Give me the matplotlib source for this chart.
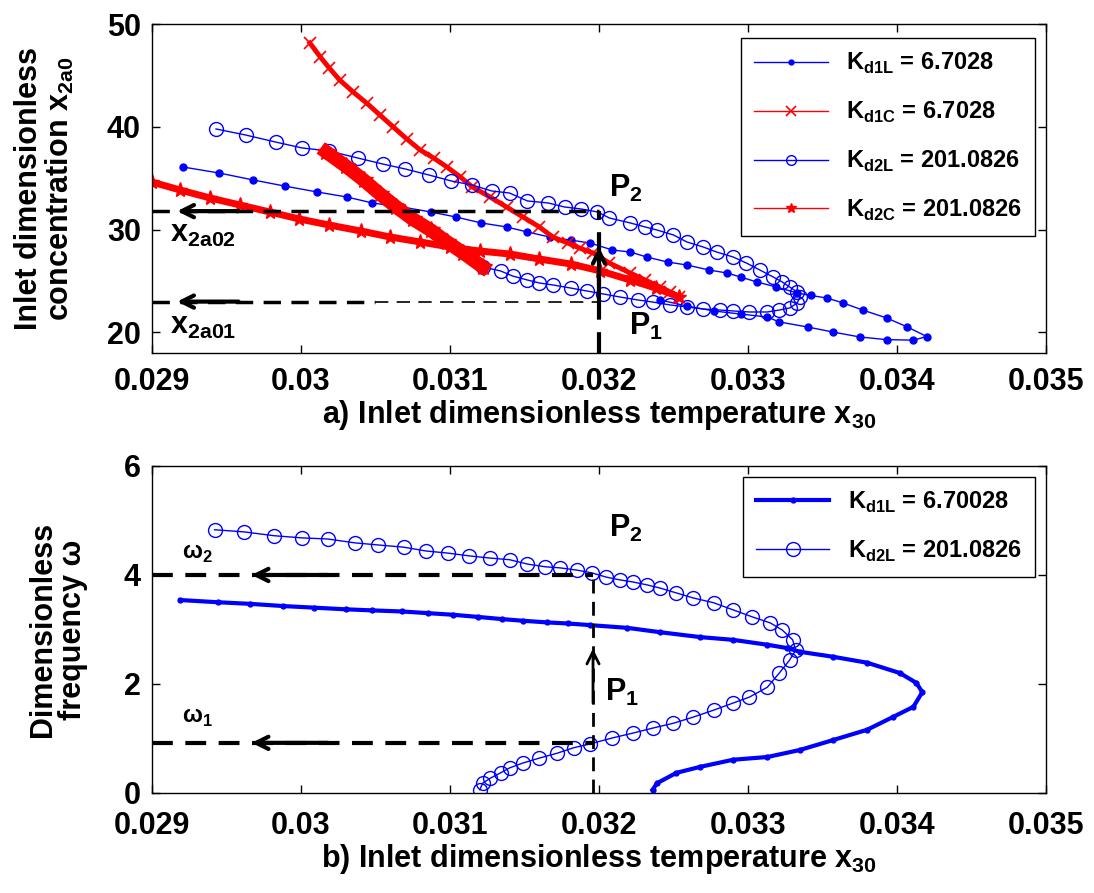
import matplotlib
matplotlib.use('Agg')
import matplotlib.pyplot as plt

# ---- a) x2a0 vs x30 ----
x30_d1L = [0.02921, 0.02945, 0.02968, 0.02989, 0.03011, 0.03031, 0.03048, 0.03068, 0.03087, 0.03104,
           0.03121, 0.03138, 0.03152, 0.03167, 0.03181, 0.03194, 0.03209, 0.03221, 0.03232, 0.03246,
           0.03259, 0.03274, 0.03286, 0.03295, 0.03306, 0.03319, 0.03333, 0.03342, 0.03353, 0.03364,
           0.03377, 0.03393, 0.03407, 0.03420, 0.03411, 0.03393, 0.03375, 0.03357, 0.03340, 0.03321,
           0.03313, 0.03295, 0.03277, 0.03259, 0.03241]
x2a0_d1L = [36.09, 35.51, 34.83, 34.24, 33.66, 33.17, 32.59, 32.20, 31.72, 31.23,
            30.65, 30.26, 29.77, 29.28, 28.98, 28.70, 28.02, 27.82, 27.34, 26.85,
            26.56, 26.07, 25.78, 25.39, 24.91, 24.42, 23.84, 23.60, 23.35, 22.86,
            22.18, 21.41, 20.53, 19.60, 19.25, 19.30, 19.56, 20.04, 20.53, 21.02,
            21.50, 21.79, 22.09, 22.57, 23.16]

x30_d1C = [0.03006, 0.03013, 0.03019, 0.03026, 0.03035, 0.03044, 0.03053, 0.03062, 0.03071, 0.03080,
           0.03089, 0.03098, 0.03107, 0.03115, 0.03127, 0.03138, 0.03149, 0.03160, 0.03169, 0.03179,
           0.03187, 0.03196, 0.03207, 0.03221, 0.03231, 0.03241, 0.03248, 0.03254]
x2a0_d1C = [48.15, 46.79, 45.72, 44.55, 43.39, 42.32, 41.15, 39.98, 38.82, 37.75,
            36.97, 36.09, 35.12, 34.15, 33.17, 32.20, 31.23, 30.26, 29.28, 28.70,
            28.21, 27.73, 26.75, 25.78, 25.10, 24.42, 23.93, 23.45]

x30_d2L = [0.02943, 0.02963, 0.02983, 0.03001, 0.03019, 0.03038, 0.03055, 0.03070, 0.03086, 0.03101,
           0.03115, 0.03128, 0.03140, 0.03152, 0.03166, 0.03177, 0.03188, 0.03199, 0.03207, 0.03221,
           0.03231, 0.03239, 0.03250, 0.03259, 0.03270, 0.03279, 0.03290, 0.03299, 0.03308, 0.03317,
           0.03323, 0.03328, 0.03333, 0.03335, 0.03333, 0.03328, 0.03321, 0.03313, 0.03301, 0.03290,
           0.03281, 0.03270, 0.03259, 0.03248, 0.03236, 0.03226, 0.03214, 0.03203, 0.03192, 0.03181,
           0.03169, 0.03160, 0.03152, 0.03142, 0.03134, 0.03122]
x2a0_d2L = [39.79, 39.20, 38.52, 37.94, 37.65, 36.97, 36.38, 35.90, 35.31, 34.73,
            34.34, 33.76, 33.56, 32.79, 32.59, 32.20, 32.01, 31.72, 31.13, 30.65,
            30.26, 29.96, 29.48, 28.80, 28.31, 27.82, 27.34, 26.75, 26.07, 25.39,
            24.91, 24.42, 23.93, 23.45, 22.86, 22.38, 22.18, 21.99, 21.99, 22.09,
            22.18, 22.28, 22.48, 22.67, 22.96, 23.16, 23.45, 23.74, 24.03, 24.32,
            24.62, 24.81, 25.10, 25.49, 25.98, 26.37]

x30_d2C = [0.02900, 0.02919, 0.02939, 0.02959, 0.02979, 0.02999, 0.03019, 0.03040, 0.03060, 0.03080,
           0.03100, 0.03120, 0.03140, 0.03160, 0.03181, 0.03201, 0.03221, 0.03238, 0.03254]
x2a0_d2C = [34.63, 33.85, 33.08, 32.40, 31.72, 31.03, 30.45, 29.87, 29.28, 28.80,
            28.31, 27.92, 27.63, 27.14, 26.66, 25.98, 25.10, 24.32, 23.45]
# dense part of the Kd2C branch
x30_d2C_b = [0.03017, 0.03030, 0.03042, 0.03053, 0.03064, 0.03075, 0.03087, 0.03098, 0.03109, 0.03122]
x2a0_d2C_b = [37.55, 36.19, 34.83, 33.47, 32.20, 31.03, 29.96, 28.80, 27.73, 26.37]

# ---- b) frequency vs x30 ----
x30_w1L = [0.02919, 0.02944, 0.02966, 0.02988, 0.03009, 0.03030, 0.03048, 0.03068, 0.03085, 0.03102,
           0.03119, 0.03135, 0.03149, 0.03165, 0.03179, 0.03194, 0.03219, 0.03241, 0.03268, 0.03290,
           0.03313, 0.03326, 0.03335, 0.03357, 0.03380, 0.03402, 0.03413, 0.03417, 0.03411, 0.03397,
           0.03380, 0.03357, 0.03335, 0.03313, 0.03290, 0.03268, 0.03252, 0.03239, 0.03236]
w_d1L = [3.54, 3.50, 3.47, 3.43, 3.40, 3.37, 3.35, 3.33, 3.30, 3.27,
         3.23, 3.19, 3.16, 3.13, 3.11, 3.08, 3.03, 2.95, 2.86, 2.81,
         2.72, 2.66, 2.59, 2.50, 2.39, 2.20, 2.02, 1.85, 1.58, 1.39,
         1.16, 0.97, 0.79, 0.66, 0.61, 0.48, 0.37, 0.18, 0.06]

x30_w2L = [0.02942, 0.02962, 0.02982, 0.03001, 0.03018, 0.03036, 0.03052, 0.03069, 0.03084, 0.03099,
           0.03113, 0.03127, 0.03140, 0.03152, 0.03164, 0.03174, 0.03185, 0.03195, 0.03205, 0.03214,
           0.03223, 0.03232, 0.03241, 0.03252, 0.03263, 0.03277, 0.03290, 0.03303, 0.03315, 0.03323,
           0.03330, 0.03332, 0.03328, 0.03321, 0.03313, 0.03301, 0.03290, 0.03277, 0.03263, 0.03250,
           0.03236, 0.03223, 0.03209, 0.03194, 0.03183, 0.03172, 0.03160, 0.03149, 0.03140, 0.03134,
           0.03127, 0.03122, 0.03120]
w_d2L = [4.83, 4.79, 4.72, 4.68, 4.66, 4.59, 4.55, 4.51, 4.44, 4.40,
         4.35, 4.31, 4.28, 4.20, 4.15, 4.13, 4.09, 4.04, 3.96, 3.91,
         3.87, 3.82, 3.76, 3.67, 3.58, 3.49, 3.36, 3.23, 3.12, 2.99,
         2.81, 2.62, 2.44, 2.20, 1.94, 1.76, 1.65, 1.52, 1.39, 1.28,
         1.19, 1.10, 1.01, 0.90, 0.83, 0.73, 0.64, 0.55, 0.46, 0.37,
         0.27, 0.18, 0.06]

# operating points P1 / P2
x30_P = 0.0320
x2a01, x2a02 = 23.0, 31.8
w1, w2 = 0.92, 4.0

xticks = [0.029, 0.03, 0.031, 0.032, 0.033, 0.034, 0.035]
xticklabels = ['0.029', '0.03', '0.031', '0.032', '0.033', '0.034', '0.035']

plt.rcParams['font.family'] = ['Liberation Sans', 'DejaVu Sans']
plt.rcParams['font.weight'] = 'bold'
plt.rcParams['axes.labelweight'] = 'bold'
plt.rcParams['axes.linewidth'] = 1.0

FS = 22

fig = plt.figure(figsize=(10.94, 8.93), dpi=100)
ax1 = fig.add_axes([0.1389, 0.6047, 0.8172, 0.3684])
ax2 = fig.add_axes([0.1389, 0.1120, 0.8172, 0.3662])

for ax in (ax1, ax2):
    ax.tick_params(direction='in', top=True, right=True, length=6, width=1,
                   labelsize=FS)
    ax.tick_params(axis='y', pad=8)
    ax.set_xlim(0.029, 0.035)
    ax.set_xticks(xticks)
    ax.set_xticklabels(xticklabels)
ax1.tick_params(axis='x', pad=10)
ax2.tick_params(axis='x', pad=13)

# ---- top panel ----
ax1.plot(x30_d1L, x2a0_d1L, '-', color='blue', lw=1, marker='.', ms=10,
         label=r'K$_{\mathregular{d1L}}$ = 6.7028')
ax1.plot(x30_d1C, x2a0_d1C, '-', color='red', lw=3.5, marker='x', ms=8, mew=1.2,
         label=r'K$_{\mathregular{d1C}}$ = 6.7028')
ax1.plot(x30_d2L, x2a0_d2L, '-', color='blue', lw=1, marker='o', ms=10, mfc='none', mew=1,
         label=r'K$_{\mathregular{d2L}}$ = 201.0826')
ax1.plot(x30_d2C, x2a0_d2C, '-', color='red', lw=5, marker='*', ms=11,
         label=r'K$_{\mathregular{d2C}}$ = 201.0826')
ax1.plot(x30_d2C_b, x2a0_d2C_b, '-', color='red', lw=10, marker='*', ms=13)

ax1.set_ylim(18, 50)
ax1.set_yticks([20, 30, 40, 50])

dash = (5, 3)
ax1.plot([0.029, x30_P], [x2a02, x2a02], color='k', lw=2.5, dashes=dash)
ax1.plot([0.029, 0.0305], [x2a01, x2a01], color='k', lw=2.5, dashes=dash)
ax1.plot([0.0305, x30_P], [x2a01, x2a01], color='k', lw=1.2, dashes=(8, 5))
ax1.plot([x30_P, x30_P], [18, x2a02], color='k', lw=3, dashes=dash)
ax1.annotate('', xy=(0.02915, x2a02), xytext=(0.0296, x2a02),
             arrowprops=dict(arrowstyle='->', lw=3, color='k', mutation_scale=22))
ax1.annotate('', xy=(0.02915, x2a01), xytext=(0.0296, x2a01),
             arrowprops=dict(arrowstyle='->', lw=3, color='k', mutation_scale=22))
ax1.annotate('', xy=(x30_P, 28.6), xytext=(x30_P, x2a01),
             arrowprops=dict(arrowstyle='->', lw=3, color='k', mutation_scale=22))

ax1.text(0.03207, 34.0, r'P$_{\mathregular{2}}$', fontsize=FS, ha='left', va='center')
ax1.text(0.03220, 20.6, r'P$_{\mathregular{1}}$', fontsize=FS, ha='left', va='center')
ax1.text(0.02912, 29.6, r'x$_{\mathregular{2a02}}$', fontsize=FS, ha='left', va='center')
ax1.text(0.02912, 20.6, r'x$_{\mathregular{2a01}}$', fontsize=FS, ha='left', va='center')

ax1.set_xlabel(r'a) Inlet dimensionless temperature x$_{\mathregular{30}}$', fontsize=FS, labelpad=1)
ax1.set_ylabel('Inlet dimensionless\n' + r'concentration x$_{\mathregular{2a0}}$',
               fontsize=FS, labelpad=22, linespacing=1.0)

leg1 = ax1.legend(loc='upper right', bbox_to_anchor=(0.988, 0.957), borderaxespad=0,
                  fontsize=17, fancybox=False, edgecolor='k', framealpha=1,
                  handlelength=3.1, labelspacing=1.0, borderpad=0.55, numpoints=1)
leg1.get_frame().set_linewidth(1)
# thin handles in the legend box
for h in leg1.legend_handles:
    h.set_linewidth(1)
    h.set_markersize(7)

# ---- bottom panel ----
ax2.plot(x30_w1L, w_d1L, '-', color='blue', lw=3, marker='.', ms=7,
         label=r'K$_{\mathregular{d1L}}$ = 6.70028')
ax2.plot(x30_w2L, w_d2L, '-', color='blue', lw=1, marker='o', ms=10, mfc='none', mew=1,
         label=r'K$_{\mathregular{d2L}}$ = 201.0826')

ax2.set_ylim(0, 6)
ax2.set_yticks([0, 2, 4, 6])

x30_Pb = 0.03196
ax2.plot([0.029, x30_Pb], [w2, w2], color='k', lw=3, dashes=dash)
ax2.plot([0.029, x30_Pb], [w1, w1], color='k', lw=3, dashes=dash)
ax2.plot([x30_Pb, x30_Pb], [0, w2], color='k', lw=2, dashes=dash)
ax2.annotate('', xy=(0.02965, w2), xytext=(0.0302, w2),
             arrowprops=dict(arrowstyle='->', lw=3, color='k', mutation_scale=22))
ax2.annotate('', xy=(0.02965, w1), xytext=(0.0302, w1),
             arrowprops=dict(arrowstyle='->', lw=3, color='k', mutation_scale=22))
ax2.annotate('', xy=(x30_Pb, 2.7), xytext=(x30_Pb, 1.6),
             arrowprops=dict(arrowstyle='->', lw=2, color='k', mutation_scale=22))

ax2.text(0.03207, 4.85, r'P$_{\mathregular{2}}$', fontsize=FS, ha='left', va='center')
ax2.text(0.03204, 1.85, r'P$_{\mathregular{1}}$', fontsize=FS, ha='left', va='center')
ax2.text(0.02920, 4.40, r'ω$_{\mathregular{2}}$', fontsize=17, ha='left', va='center')
ax2.text(0.02920, 1.38, r'ω$_{\mathregular{1}}$', fontsize=17, ha='left', va='center')

ax2.set_xlabel(r'b) Inlet dimensionless temperature x$_{\mathregular{30}}$', fontsize=FS, labelpad=1)
ax2.set_ylabel('Dimensionless\nfrequency ω', fontsize=FS, labelpad=26, linespacing=1.0)

leg2 = ax2.legend(loc='upper right', bbox_to_anchor=(0.988, 0.967), borderaxespad=0,
                  fontsize=17, fancybox=False, edgecolor='k', framealpha=1,
                  handlelength=3.1, labelspacing=1.0, borderpad=0.55, numpoints=1)
leg2.get_frame().set_linewidth(1)

fig.savefig('out.png', dpi=100)
